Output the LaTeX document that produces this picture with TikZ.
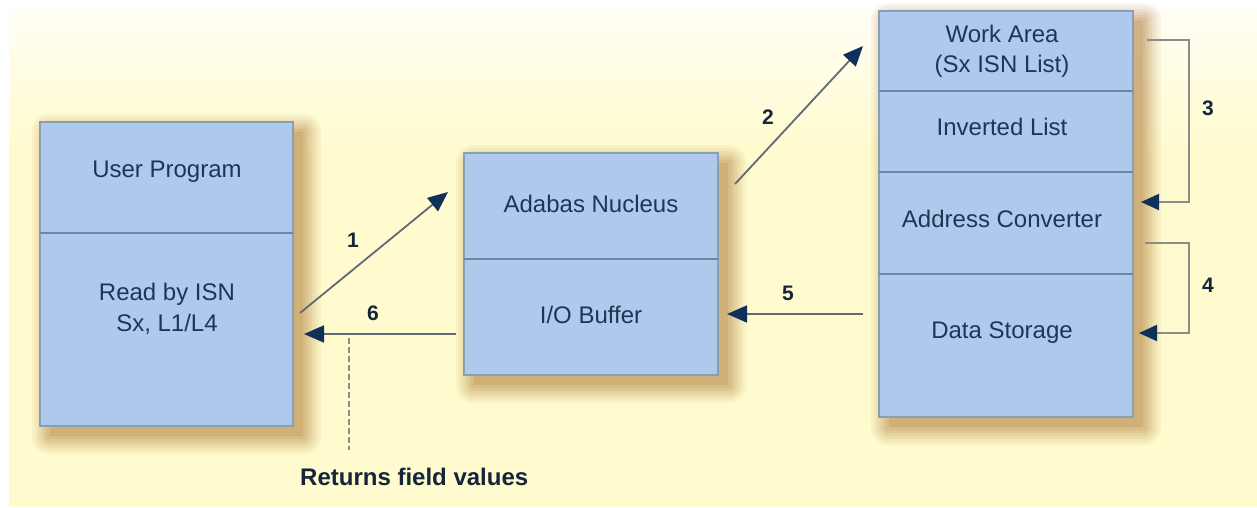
\documentclass[tikz,border=0pt]{standalone}
\usepackage{fontspec}
\setmainfont{Liberation Sans}
\usetikzlibrary{arrows.meta,calc}
\definecolor{boxfill}{HTML}{AFC9EC}
\definecolor{boxedge}{HTML}{8A9EB6}
\definecolor{divc}{HTML}{6D86A2}
\definecolor{txtc}{HTML}{1E3656}
\definecolor{numc}{HTML}{15253A}
\definecolor{linec}{HTML}{5F6A76}
\definecolor{headc}{HTML}{10305C}
\definecolor{brc}{HTML}{8C8C88}
\definecolor{shadc}{HTML}{B07E3C}
\definecolor{bgtop}{HTML}{FFFEF6}
\definecolor{bgyel}{HTML}{FFFBCE}
\tikzset{
  sec/.style={fill=boxfill, inner sep=0pt, outer sep=0pt},
  outline/.style={draw=boxedge, line width=1.4pt, inner sep=0pt, outer sep=0pt},
  divider/.style={draw=divc, line width=2.4pt},
  txt/.style={text=txtc, font=\fontsize{24}{30.5}\selectfont, align=center, inner sep=0pt},
  num/.style={text=numc, font=\fontsize{21}{24}\selectfont\bfseries, inner sep=0pt},
  flow/.style={draw=linec, line width=1.8pt, -{Triangle[length=20pt,width=17pt,color=headc]}},
  bracket/.style={draw=brc, line width=2pt, -{Triangle[length=18pt,width=16pt,color=headc]}},
}
\newcommand{\boxshadow}[1]{%
  \foreach \r/\o in {18/0.07,15/0.08,12/0.09,9/0.11,6/0.13,3/0.15,0/0.18}{%
    \fill[shadc, opacity=\o, rounded corners=\r pt]
      ($(#1.north west)+(10-\r,10-\r)$) rectangle ($(#1.south east)+(10+\r,10+\r)$);
  }%
}
\begin{document}
\begin{tikzpicture}[x=1pt,y=-1pt]
\useasboundingbox (0,0) rectangle (1257,507);
\fill[white] (0,0) rectangle (1257,507);
\shade[top color=bgtop, bottom color=bgyel] (9,9) rectangle (1257,150);
\fill[bgyel] (9,149.5) rectangle (1257,507);

% ---------- left box ----------
\node[minimum width=253pt, minimum height=304pt, inner sep=0pt] (lbox) at (166.5,274) {};
\boxshadow{lbox}
\node[sec, minimum width=253pt, minimum height=111pt] (lup) at (166.5,177.5) {};
\node[sec, minimum width=253pt, minimum height=193pt] (ldn) at (166.5,329.5) {};
\node[outline, minimum width=253pt, minimum height=304pt] (lout) at (166.5,274) {};
\draw[divider] (ldn.north west) -- (ldn.north east);
\node[txt] (tup) at (167,172) {User Program};
\node[txt] (tread) at (167,309) {Read by ISN\\Sx, L1/L4};

% ---------- middle box ----------
\node[minimum width=254pt, minimum height=222pt, inner sep=0pt] (mbox) at (591,264) {};
\boxshadow{mbox}
\node[sec, minimum width=254pt, minimum height=106pt] (mup) at (591,206) {};
\node[sec, minimum width=254pt, minimum height=116pt] (mdn) at (591,317) {};
\node[outline, minimum width=254pt, minimum height=222pt] (mout) at (591,264) {};
\draw[divider] (mdn.north west) -- (mdn.north east);
\node[txt] (tnuc) at (591,204) {Adabas Nucleus};
\node[txt] (tbuf) at (591,315) {I/O Buffer};

% ---------- right box ----------
\node[minimum width=254pt, minimum height=406pt, inner sep=0pt] (rbox) at (1006,214) {};
\boxshadow{rbox}
\node[sec, minimum width=254pt, minimum height=80pt] (rwork) at (1006,51) {};
\node[sec, minimum width=254pt, minimum height=81pt] (rinv) at (1006,131.5) {};
\node[sec, minimum width=254pt, minimum height=102pt] (raddr) at (1006,223) {};
\node[sec, minimum width=254pt, minimum height=143pt] (rdata) at (1006,345.5) {};
\node[outline, minimum width=254pt, minimum height=406pt] (rout) at (1006,214) {};
\draw[divider] (rinv.north west) -- (rinv.north east);
\draw[divider] (raddr.north west) -- (raddr.north east);
\draw[divider] (rdata.north west) -- (rdata.north east);
\node[txt] (twork) at (1002,51.5) {Work Area\\(Sx ISN List)};
\node[txt] (tinv) at (1002,127) {Inverted List};
\node[txt] (taddr) at (1002,219) {Address Converter};
\node[txt] (tdata) at (1002,333) {Data Storage};

% ---------- connectors ----------
\coordinate (a1s) at (300,313);  \coordinate (a1e) at (448,192);
\coordinate (a2s) at (735,184);  \coordinate (a2e) at (863,46);
\coordinate (a5s) at (863,314);  \coordinate (a5e) at (727,314);
\coordinate (a6s) at (456,334);  \coordinate (a6e) at (304,334);
\coordinate (b3s) at (1147,40);  \coordinate (b3e) at (1141,202);
\coordinate (b4s) at (1145,243); \coordinate (b4e) at (1139,333);
\coordinate (dtop) at (349,338); \coordinate (dbot) at (349,450);

\draw[flow] (a1s) -- (a1e);
\draw[flow] (a2s) -- (a2e);
\draw[flow] (a5s) -- (a5e);
\draw[flow] (a6s) -- (a6e);
\draw[bracket] (b3s) -- ++(42,0) |- (b3e);
\draw[bracket] (b4s) -- ++(44,0) |- (b4e);
\draw[draw=brc, line width=2.4pt, dash pattern=on 6pt off 3pt] (dtop) -- (dbot);

\node[num] (n1) at (353,240) {1};
\node[num] (n2) at (768,117) {2};
\node[num] (n3) at (1208,108) {3};
\node[num] (n4) at (1208,285) {4};
\node[num] (n5) at (788,293) {5};
\node[num] (n6) at (373,313) {6};
\node[num, font=\fontsize{24}{28}\selectfont\bfseries, anchor=west] (ret) at (300,477) {Returns field values};
\end{tikzpicture}
\end{document}
